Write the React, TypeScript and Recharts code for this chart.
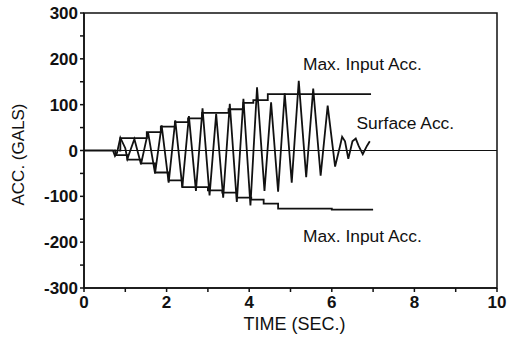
import {
  LineChart,
  Line,
  XAxis,
  YAxis,
  ReferenceLine,
  ReferenceArea,
  ReferenceDot,
} from "recharts";

// time (sec) / acceleration (gals)
const surfaceT = [
  0, 0.7, 0.75, 0.8, 0.88, 1.0, 1.05, 1.22, 1.38, 1.55, 1.72, 1.88, 2.05, 2.21,
  2.38, 2.54, 2.71, 2.87, 3.04, 3.2, 3.37, 3.53, 3.7, 3.86, 4.03, 4.19, 4.37,
  4.53, 4.7, 4.86, 5.03, 5.2, 5.38, 5.55, 5.73, 5.9, 6.08, 6.2, 6.25, 6.32, 6.4,
  6.5, 6.58, 6.65, 6.75, 6.85, 6.92,
];
const surfaceAcc = [
  0, 0, -12, -5, 28, 5, -18, 25, -30, 40, -50, 55, -70, 66, -80, 75, -88, 92,
  -98, 80, -103, 102, -112, 113, -120, 138, -88, 105, -90, 125, -70, 152, -58,
  135, -55, 98, -35, 10, 30, 20, -18, 20, 26, 10, -8, 10, 20,
];

const maxUpT = [0.85, 0.88, 1.52, 1.86, 2.2, 2.52, 2.86, 3.5, 3.86, 4.1, 4.45, 6.95];
const maxUpAcc = [0, 27, 40, 52, 62, 70, 82, 90, 104, 110, 123, 123];

const maxLowT = [0.72, 0.76, 1.05, 1.38, 1.72, 2.05, 2.38, 3.0, 3.35, 3.7, 4.05, 4.35, 4.7, 6.0, 7.0];
const maxLowAcc = [0, -10, -20, -28, -48, -65, -80, -87, -92, -103, -107, -116, -127, -129, -129];

const xTicks = [0, 1, 2, 3, 4, 5, 6, 7, 8, 9, 10];
const yTicks = [-300, -250, -200, -150, -100, -50, 0, 50, 100, 150, 200, 250, 300];

const notes = [
  { t: 6.74, acc: 189, text: "Max. Input Acc." },
  { t: 7.78, acc: 61, text: "Surface Acc." },
  { t: 6.74, acc: -187, text: "Max. Input Acc." },
];

const zip = (ts: number[], vs: number[]) => ts.map((t, i) => ({ t, v: vs[i] }));

const surface = zip(surfaceT, surfaceAcc);
const maxUp = zip(maxUpT, maxUpAcc);
const maxLow = zip(maxLowT, maxLowAcc);

const ink = "#111";
const tickStyle = { fill: ink, fontSize: 17, fontWeight: 700 };

export default function App() {
  return (
    <div
      style={{
        position: "absolute",
        left: 0,
        top: 0,
        background: "#fff",
        fontFamily: "'Liberation Sans', Arial, sans-serif",
      }}
    >
      <LineChart
        width={510}
        height={341}
        margin={{ top: 13, right: 13, bottom: 8, left: 0 }}
      >
        <XAxis
          type="number"
          dataKey="t"
          domain={[0, 10]}
          ticks={xTicks}
          allowDataOverflow
          height={45}
          tickSize={4}
          tickMargin={4}
          stroke={ink}
          strokeWidth={1.5}
          tick={tickStyle}
          tickFormatter={(v: number) => (v % 2 === 0 ? String(v) : "")}
          label={{
            value: "TIME (SEC.)",
            position: "insideBottom",
            offset: 3,
            dx: 4,
            fill: ink,
            fontSize: 18,
          }}
        />
        <YAxis
          type="number"
          domain={[-300, 300]}
          ticks={yTicks}
          width={84}
          tickSize={4}
          tickMargin={2}
          stroke={ink}
          strokeWidth={1.5}
          tick={tickStyle}
          tickFormatter={(v: number) => (v % 100 === 0 ? String(v) : "")}
          label={{
            value: "ACC. (GALS)",
            angle: -90,
            position: "insideLeft",
            offset: 18,
            dy: 4,
            fill: ink,
            fontSize: 17,
            style: { textAnchor: "middle" },
          }}
        />
        <ReferenceArea
          x1={0}
          x2={10}
          y1={-300}
          y2={300}
          fill="none"
          fillOpacity={0}
          stroke={ink}
          strokeWidth={1.5}
        />
        <ReferenceLine y={0} stroke={ink} strokeWidth={1.2} />
        <Line
          data={maxUp}
          dataKey="v"
          type="stepAfter"
          stroke={ink}
          strokeWidth={1.8}
          dot={false}
          isAnimationActive={false}
        />
        <Line
          data={maxLow}
          dataKey="v"
          type="stepAfter"
          stroke={ink}
          strokeWidth={1.8}
          dot={false}
          isAnimationActive={false}
        />
        <Line
          data={surface}
          dataKey="v"
          type="linear"
          stroke={ink}
          strokeWidth={1.8}
          dot={false}
          isAnimationActive={false}
        />
        {notes.map((n, i) => (
          <ReferenceDot
            key={i}
            x={n.t}
            y={n.acc}
            r={0}
            stroke="none"
            label={{ value: n.text, position: "center", fill: ink, fontSize: 17.4 }}
          />
        ))}
      </LineChart>
    </div>
  );
}
